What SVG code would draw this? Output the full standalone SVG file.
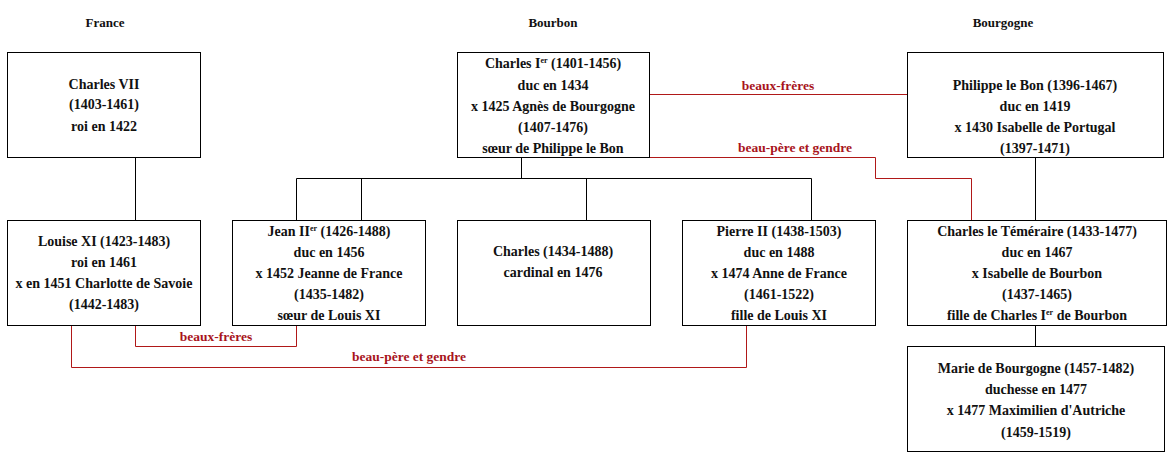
<svg xmlns="http://www.w3.org/2000/svg" width="1170" height="461" viewBox="0 0 1170 461">
<style>
text{font-family:"Liberation Serif","DejaVu Serif",serif;font-weight:bold;font-size:14px;fill:#111;text-anchor:middle}
text.t{font-size:13px}
.box{fill:#fff;stroke:#000;stroke-width:1}
.k{fill:none;stroke:#000;stroke-width:1}
.r{fill:none;stroke:#b01818;stroke-width:1}
text.rl{fill:#a8141c;font-size:13.5px}
.sup{font-size:8px}
</style>
<rect width="1170" height="461" fill="#fff"/>
<g id="titles">
<text class="t" x="105" y="27">France</text>
<text class="t" x="553" y="27">Bourbon</text>
<text class="t" x="1003" y="27">Bourgogne</text>
</g>
<g id="connectors">
<path class="k" d="M135.5 157V220"/>
<path class="k" d="M521.5 157V178.5M296.5 178.5H811.5M296.5 178.5V220M361.5 178.5V220M586.5 178.5V220M811.5 178.5V220"/>
<path class="k" d="M1035.5 157V220M1035.5 325V346"/>
<path class="r" d="M649 94.5H908"/>
<path class="r" d="M649 157.5H875.5V178.5H971.5V220"/>
<path class="r" d="M135.5 325V346.5H296.5V325"/>
<path class="r" d="M71.5 325V367.5H746.5V325"/>
<text class="rl" x="778" y="90">beaux-frères</text>
<text class="rl" x="795" y="152">beau-père et gendre</text>
<text class="rl" x="216" y="341">beaux-frères</text>
<text class="rl" x="409" y="361">beau-père et gendre</text>
</g>
<g id="charles7">
<rect class="box" x="7.5" y="52.5" width="193" height="105"/>
<text x="104" y="89">Charles VII</text>
<text x="104" y="109">(1403-1461)</text>
<text x="104" y="131">roi en 1422</text>
</g>
<g id="charles1">
<rect class="box" x="457.5" y="52.5" width="192" height="105"/>
<text x="553" y="68">Charles I<tspan class="sup" dy="-5">er</tspan><tspan dy="5"> (1401-1456)</tspan></text>
<text x="553" y="90">duc en 1434</text>
<text x="553" y="111">x 1425 Agnès de Bourgogne</text>
<text x="553" y="132">(1407-1476)</text>
<text x="553" y="153">sœur de Philippe le Bon</text>
</g>
<g id="philippe">
<rect class="box" x="907.5" y="52.5" width="256" height="105"/>
<text x="1035" y="90">Philippe le Bon (1396-1467)</text>
<text x="1035" y="111">duc en 1419</text>
<text x="1035" y="132">x 1430 Isabelle de Portugal</text>
<text x="1035" y="153">(1397-1471)</text>
</g>
<g id="louis11">
<rect class="box" x="7.5" y="220.5" width="193" height="105"/>
<text x="104" y="246">Louise XI (1423-1483)</text>
<text x="104" y="267">roi en 1461</text>
<text x="104" y="288">x en 1451 Charlotte de Savoie</text>
<text x="104" y="309">(1442-1483)</text>
</g>
<g id="jean2">
<rect class="box" x="232.5" y="220.5" width="193" height="105"/>
<text x="329" y="236">Jean II<tspan class="sup" dy="-5">er</tspan><tspan dy="5"> (1426-1488)</tspan></text>
<text x="329" y="257">duc en 1456</text>
<text x="329" y="278">x 1452 Jeanne de France</text>
<text x="329" y="299">(1435-1482)</text>
<text x="329" y="320">sœur de Louis XI</text>
</g>
<g id="cardinal">
<rect class="box" x="457.5" y="220.5" width="193" height="105"/>
<text x="553" y="256">Charles (1434-1488)</text>
<text x="553" y="277">cardinal en 1476</text>
</g>
<g id="pierre2">
<rect class="box" x="682.5" y="220.5" width="193" height="105"/>
<text x="779" y="236">Pierre II (1438-1503)</text>
<text x="779" y="257">duc en 1488</text>
<text x="779" y="278">x 1474 Anne de France</text>
<text x="779" y="299">(1461-1522)</text>
<text x="779" y="320">fille de Louis XI</text>
</g>
<g id="temeraire">
<rect class="box" x="907.5" y="220.5" width="259" height="105"/>
<text x="1037" y="236">Charles le Téméraire (1433-1477)</text>
<text x="1037" y="257">duc en 1467</text>
<text x="1037" y="278">x Isabelle de Bourbon</text>
<text x="1037" y="299">(1437-1465)</text>
<text x="1037" y="320">fille de Charles I<tspan class="sup" dy="-5">er</tspan><tspan dy="5"> de Bourbon</tspan></text>
</g>
<g id="marie">
<rect class="box" x="907.5" y="346.5" width="257" height="105"/>
<text x="1036" y="373">Marie de Bourgogne (1457-1482)</text>
<text x="1036" y="394">duchesse en 1477</text>
<text x="1036" y="415">x 1477 Maximilien d'Autriche</text>
<text x="1036" y="437">(1459-1519)</text>
</g>
</svg>
